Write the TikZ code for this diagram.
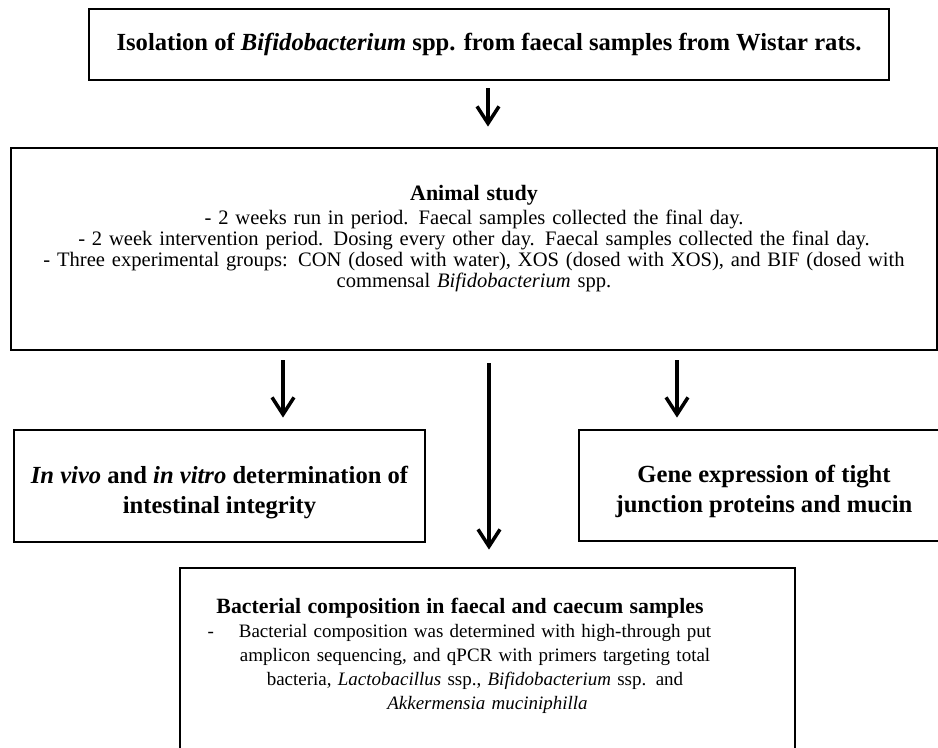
\documentclass[tikz,border=0pt]{standalone}
\usepackage{fontspec}
\setmainfont{Liberation Serif}
\usetikzlibrary{arrows.meta,positioning}
\tikzstyle{box} = [rectangle, draw = black, line width = 1.6pt, align = center, inner sep = 0pt]
\tikzstyle{arrow} = [line width = 2pt, -{Straight Barb[length = 3.4mm, width = 4.4mm]}]

\begin{document}
\begin{tikzpicture}[node distance = 4.09cm]
    \useasboundingbox (0,0) rectangle (18.76,-14.94);
    \clip (0,0) rectangle (18.76,-14.94);
    \node (isolation) [box, minimum width = 16cm, minimum height = 1.42cm, font = \fontsize{14}{16}\selectfont\bfseries] at (9.78,-0.89) {Isolation of \textit{Bifidobacterium} spp. from faecal samples from Wistar rats.};
    \node (animal) [box, below of=isolation, xshift=-0.3cm, minimum width = 18.52cm, minimum height = 4.04cm, text width = 18.5cm, font = \fontsize{11.7}{11.95}\selectfont] {{\fontsize{12.5}{14}\selectfont\bfseries Animal study}\\[0.06cm]
        - 2 weeks run in period. Faecal samples collected the final day.\\
        - 2 week intervention period. Dosing every other day. Faecal samples collected the final day.\\
        - Three experimental groups: CON (dosed with water), XOS (dosed with XOS), and BIF (dosed with\\
        commensal \textit{Bifidobacterium} spp.\rule[-0.5cm]{0pt}{0pt}};
    \node (integrity) [box, below of=animal, xshift=-5.09cm, yshift=-0.65cm, minimum width = 8.22cm, minimum height = 2.24cm, font = \fontsize{14}{17}\selectfont\bfseries] {\rule{0pt}{0.6cm}\textit{In vivo} and \textit{in vitro} determination of\\ intestinal integrity};
    \node (gene) [box, below of=animal, xshift=5.8cm, yshift=-0.64cm, minimum width = 7.4cm, minimum height = 2.22cm, font = \fontsize{14}{17}\selectfont\bfseries] {\rule{0pt}{0.6cm}Gene expression of tight\\ junction proteins and mucin};
    \node (bacteria) [box, below of=animal, xshift=0.27cm, yshift=-4.29cm, minimum width = 12.3cm, minimum height = 4cm, text width = 12.1cm, font = \fontsize{10.8}{13.7}\selectfont] {\addtolength{\rightskip}{0.5cm}{\fontsize{12.4}{14}\selectfont\bfseries Bacterial composition in faecal and caecum samples}\makebox[0.6cm]{}\\
        \leavevmode\llap{-\hspace{0.5cm}}Bacterial composition was determined with high-through put\\
        amplicon sequencing, and qPCR with primers targeting total\\
        bacteria, \textit{Lactobacillus} ssp., \textit{Bifidobacterium} ssp. and\\
        \textit{Akkermensia muciniphilla}\rule[-0.58cm]{0pt}{0pt}};

    \draw [arrow, shorten <= 0.14cm, shorten >= 0.4cm] ([xshift=-0.02cm]isolation.south) -- ([xshift=-0.02cm]isolation.south |- animal.north);
    \draw [arrow, shorten <= 0.18cm, shorten >= 0.22cm] ([xshift=1.27cm]integrity.north |- animal.south) -- ([xshift=1.27cm]integrity.north);
    \draw [arrow, shorten <= 0.24cm, shorten >= 0.34cm] ([xshift=0.03cm]bacteria.north |- animal.south) -- ([xshift=0.03cm]bacteria.north);
    \draw [arrow, shorten <= 0.18cm, shorten >= 0.22cm] ([xshift=-1.74cm]gene.north |- animal.south) -- ([xshift=-1.74cm]gene.north);
\end{tikzpicture}
\end{document}
